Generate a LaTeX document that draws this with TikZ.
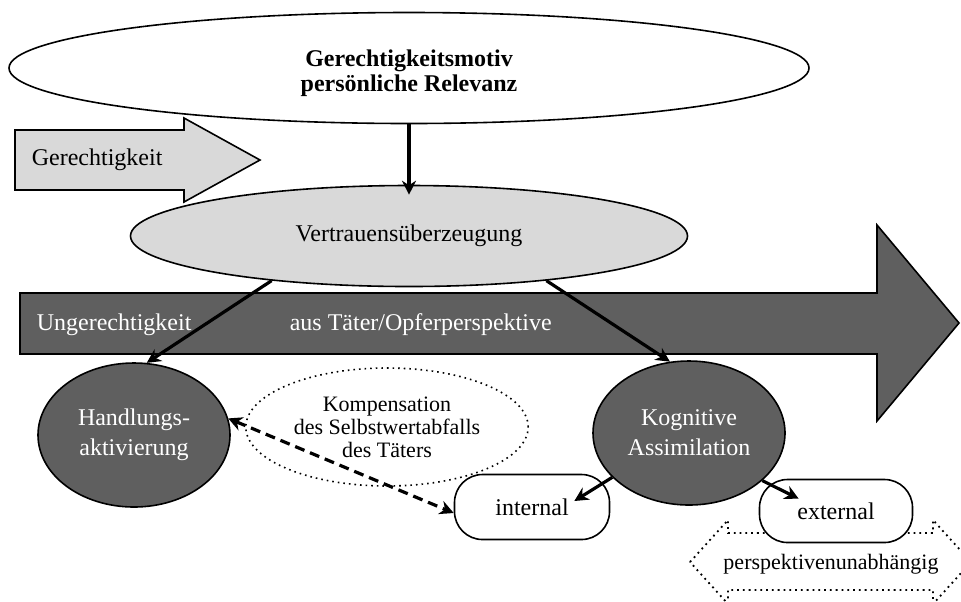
\documentclass[tikz,border=0pt]{standalone}
\usepackage{fontspec}
\setmainfont{Liberation Serif}
\usetikzlibrary{shapes.geometric,arrows.meta}
\definecolor{lightgrey}{HTML}{D9D9D9}
\definecolor{darkgrey}{HTML}{5F5F5F}

\begin{document}
\begin{tikzpicture}[x=0.5pt,y=-0.5pt,
  every node/.style={font=\fontsize{12}{15}\selectfont},
  line width=0.8pt,
  >={Stealth[length=7pt,width=7pt]},
  conn/.style={line width=1.6pt,->},
  darkell/.style={ellipse,draw,fill=darkgrey,text=white,align=center,inner sep=0pt,minimum width=96pt,minimum height=72pt},
  pill/.style={draw,fill=white,rounded corners=14pt,inner sep=0pt}]
\clip (0,0) rectangle (961,601);
% Pfeile im Hintergrund
\draw [fill=darkgrey] (20,293) -- (877,293) -- (877,225) -- (959,323) -- (877,421) -- (877,354) -- (20,354) -- cycle;
\draw [fill=lightgrey] (15,130) -- (184,130) -- (184,118) -- (260,160) -- (184,202) -- (184,190) -- (15,190) -- cycle;
\draw [dotted,line width=0.9pt] (690,562) -- (728,520) -- (728,533) -- (933,533) -- (933,520) -- (971,562) -- (933,604) -- (933,590) -- (728,590) -- (728,604) -- cycle;
\node [anchor=west,inner sep=0pt] (gtxt) at (31,160) {Gerechtigkeit};
\node [anchor=west,inner sep=0pt,text=white] (utxt) at (36,325) {Ungerechtigkeit};
\node [anchor=west,inner sep=0pt,text=white] (ptxt) at (289,325) {aus Täter/Opferperspektive};
\node [font=\fontsize{11}{13}\selectfont] (unab) at (831,564) {perspektivenunabhängig};

% Ellipsen und Kaesten
\node [ellipse,draw,fill=white,minimum width=400pt,minimum height=55.5pt] (motiv) at (409,68) {};
\node [align=center,font=\bfseries\fontsize{12}{12.5}\selectfont] (motivtxt) at (409,73) {Gerechtigkeitsmotiv\\persönliche Relevanz};
\node [ellipse,draw,fill=lightgrey,minimum width=278.5pt,minimum height=50.5pt] (vert) at (409,236) {Vertrauensüberzeugung};
\node [darkell] (hand) at (134,435) {Handlungs-\\aktivierung};
\node [darkell] (kog) at (689,433) {Kognitive\\Assimilation};
\node [ellipse,draw,dotted,align=center,minimum width=125pt,minimum height=59pt,font=\fontsize{11}{11.5}\selectfont] (komp) at (387,427) {Kompensation\\des Selbstwertabfalls\\des Täters};
\node [pill,minimum width=77.5pt,minimum height=32.5pt] (int) at (532,507) {internal};
\node [pill,minimum width=76.5pt,minimum height=31.5pt] (ext) at (836,511) {external};

% Verbindungen
\draw [conn] (motiv.south) -- ([yshift=-5pt]vert.north);
\draw [conn] (vert.198) -- (hand.80);
\draw [conn] (vert.-18) -- (kog.105);
\draw [conn] (kog.210) -- ([shift={(-18pt,3pt)}]int.east);
\draw [conn] (kog.-33) -- ([shift={(20pt,-10pt)}]ext.north west);
\draw [conn,<->,dash pattern=on 5pt off 3pt] (hand.10) -- ([yshift=-3pt]int.west);
\end{tikzpicture}
\end{document}
